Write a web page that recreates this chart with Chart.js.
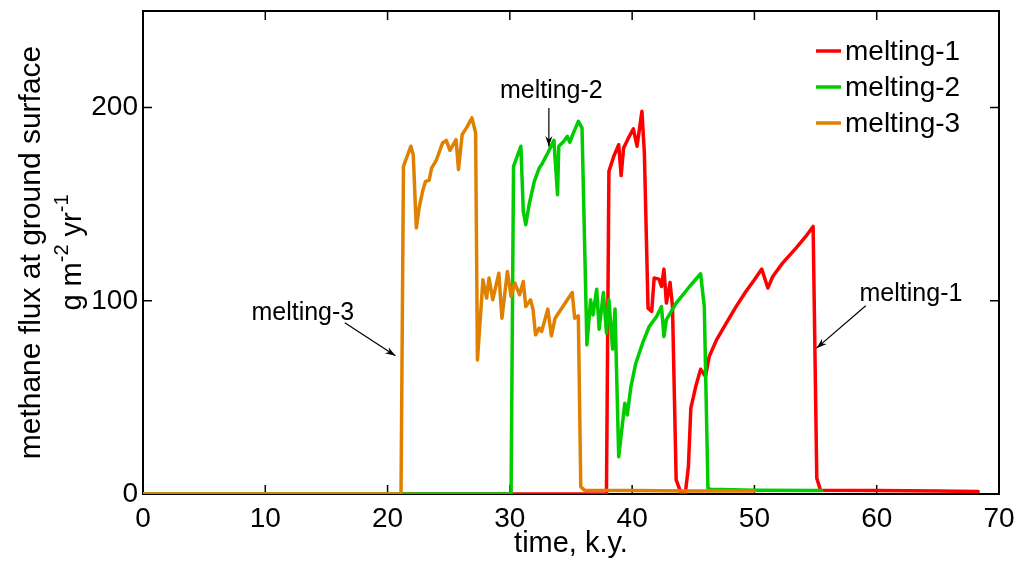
<!DOCTYPE html>
<html>
<head>
<meta charset="utf-8">
<script src="https://cdn.jsdelivr.net/npm/chart.js@4.4.1/dist/chart.umd.min.js"></script>
<style>
  html, body { margin: 0; padding: 0; background: #fff; }
  #wrap { width: 1018px; height: 561px; }
</style>
</head>
<body>
<div id="wrap"><canvas id="fluxChart" width="1018" height="561"></canvas></div>
<script>
// tick values
const xTicks = [0, 10, 20, 30, 40, 50, 60, 70];
const yTicks = [0, 100, 200];

// melting-1 (red)
const m1Time = [0, 37.9, 38.1, 38.5, 38.9, 39.1, 39.3, 39.7, 40.1, 40.4, 40.8, 41.0, 41.3, 41.6, 41.8, 42.2, 42.4, 42.6, 42.8, 43.1, 43.3, 43.6, 44.0, 44.35, 44.6, 44.8, 45.2, 45.6, 46.0, 46.3, 46.9, 47.7, 48.5, 49.3, 50.0, 50.6, 51.1, 51.5, 52.3, 53.4, 54.2, 54.8, 55.1, 55.4, 60, 65, 68.3];
const m1Flux = [0, 0, 167, 174.8, 180.8, 164.8, 179.1, 184.3, 189, 180, 198.1, 176.5, 96.2, 94.5, 111.8, 111.2, 107.4, 116.4, 98.8, 109.5, 97, 7.3, 0.4, 0.4, 14.1, 44.4, 55.6, 64.6, 60.8, 71.1, 79.8, 88.4, 97, 104.8, 110.9, 116.4, 106.6, 112.6, 119.5, 127.3, 133.3, 138.5, 8.1, 2, 1.8, 1.5, 1.3];

// melting-2 (green)
const m2Time = [0, 30.1, 30.3, 30.9, 31.1, 31.3, 31.6, 32.0, 32.4, 32.6, 33.1, 33.6, 33.9, 34.0, 34.4, 34.7, 34.9, 35.2, 35.6, 35.9, 36.3, 36.6, 36.8, 37.1, 37.3, 37.65, 37.9, 38.1, 38.4, 38.6, 38.9, 39.4, 39.6, 39.9, 40.3, 40.9, 41.4, 42.0, 42.4, 42.6, 42.8, 43.6, 44.7, 45.6, 45.9, 46.2, 46.4, 50, 55.5];
const m2Flux = [0, 0, 169.6, 180, 146.3, 139.4, 150.6, 161.8, 168.7, 170.5, 176.5, 183, 154.9, 180, 182.5, 185.1, 182, 186.9, 192.9, 189.5, 77.2, 100.5, 92.7, 106, 85.3, 104.3, 83.3, 100.5, 75, 95.7, 19.3, 47, 40.9, 55.6, 67.7, 78.9, 86.7, 91.9, 97, 81.5, 90.2, 98.8, 107.4, 114, 97, 3, 2.4, 2, 1.8];

// melting-3 (orange)
const m3Time = [0, 21.1, 21.3, 21.9, 22.1, 22.35, 22.6, 22.9, 23.1, 23.4, 23.6, 24.0, 24.5, 24.8, 25.1, 25.6, 25.8, 26.1, 26.5, 26.9, 27.2, 27.35, 27.8, 28.1, 28.3, 28.6, 29.1, 29.35, 29.8, 30.1, 30.4, 30.8, 31.1, 31.3, 31.7, 31.9, 32.1, 32.4, 32.6, 33.1, 33.4, 33.7, 35.1, 35.3, 35.6, 35.8, 36.1, 40, 45, 50];
const m3Flux = [0, 0, 169.6, 180, 175.6, 137.7, 148.9, 157.5, 161.8, 162.4, 168.7, 173, 181.7, 183, 177.9, 183.4, 167.9, 186, 190, 194.7, 186.9, 69.4, 110.9, 101.4, 111.8, 100.5, 114.3, 91, 115.2, 102.2, 109.2, 103.1, 110, 97, 100.5, 95.3, 82.4, 85.9, 84.1, 95.7, 81.9, 91, 104.3, 91, 92.2, 3.8, 2, 1.8, 1.6, 1.5];

// text labels with arrows, in data units: [text, textX, textY, fromX, fromY, toX, toY]
const notes = [
  ['melting-3', 13.07, 93.8, 16.5, 88.6, 20.64, 71.5],
  ['melting-2', 33.39, 208.4, 33.19, 199.8, 33.19, 179.9],
  ['melting-1', 62.8, 103.6, 59.1, 97.4, 55.08, 75.5]
];

const FONT = "'Liberation Sans', Arial, sans-serif";

function pts(xs, ys) {
  return xs.map((t, i) => ({ x: t, y: ys[i] }));
}

const boxPlugin = {
  id: 'box',
  beforeDatasetsDraw(chart) {
    const { ctx, chartArea: a, scales: { x, y } } = chart;
    ctx.save();
    ctx.strokeStyle = '#000';
    ctx.lineWidth = 2;
    ctx.strokeRect(a.left, a.top, a.right - a.left, a.bottom - a.top);
    ctx.lineWidth = 1.5;
    ctx.beginPath();
    xTicks.forEach(v => {
      const px = x.getPixelForValue(v);
      ctx.moveTo(px, a.bottom); ctx.lineTo(px, a.bottom - 9);
      ctx.moveTo(px, a.top); ctx.lineTo(px, a.top + 9);
    });
    yTicks.forEach(v => {
      const py = y.getPixelForValue(v);
      ctx.moveTo(a.left, py); ctx.lineTo(a.left + 9, py);
      ctx.moveTo(a.right, py); ctx.lineTo(a.right - 9, py);
    });
    ctx.stroke();

    // y axis title (two lines, second with superscripts)
    const cy = (a.top + a.bottom) / 2;
    ctx.fillStyle = '#000';
    ctx.translate(0, cy);
    ctx.rotate(-Math.PI / 2);
    ctx.textBaseline = 'alphabetic';
    ctx.textAlign = 'center';
    ctx.font = '30px ' + FONT;
    ctx.fillText('methane flux at ground surface', 0, 40);
    const parts = [['g m', false], ['-2', true], [' yr', false], ['-1', true]];
    const big = '29px ' + FONT, small = '20px ' + FONT;
    let total = 0;
    parts.forEach(([s, sup]) => { ctx.font = sup ? small : big; total += ctx.measureText(s).width; });
    let px = -total / 2;
    ctx.textAlign = 'left';
    parts.forEach(([s, sup]) => {
      ctx.font = sup ? small : big;
      ctx.fillText(s, px, sup ? 68 : 81);
      px += ctx.measureText(s).width;
    });
    ctx.restore();
  },
  afterDatasetsDraw(chart) {
    const { ctx, scales: { x, y } } = chart;
    ctx.save();
    // annotations
    ctx.fillStyle = '#000';
    ctx.strokeStyle = '#000';
    ctx.lineWidth = 1.2;
    ctx.font = '25px ' + FONT;
    ctx.textAlign = 'center';
    ctx.textBaseline = 'middle';
    notes.forEach(([txt, tx, ty, fx, fy, ex, ey]) => {
      ctx.fillText(txt, x.getPixelForValue(tx), y.getPixelForValue(ty));
      const x1 = x.getPixelForValue(fx), y1 = y.getPixelForValue(fy);
      const x2 = x.getPixelForValue(ex), y2 = y.getPixelForValue(ey);
      const ang = Math.atan2(y2 - y1, x2 - x1);
      ctx.beginPath();
      ctx.moveTo(x1, y1); ctx.lineTo(x2, y2);
      ctx.stroke();
      ctx.beginPath();
      ctx.moveTo(x2, y2);
      ctx.lineTo(x2 - 11 * Math.cos(ang - 0.33), y2 - 11 * Math.sin(ang - 0.33));
      ctx.lineTo(x2 - 7 * Math.cos(ang), y2 - 7 * Math.sin(ang));
      ctx.lineTo(x2 - 11 * Math.cos(ang + 0.33), y2 - 11 * Math.sin(ang + 0.33));
      ctx.closePath();
      ctx.fill();
    });

    // legend, top right
    const a = chart.chartArea;
    ctx.font = '28px ' + FONT;
    ctx.textAlign = 'left';
    ctx.textBaseline = 'middle';
    chart.data.datasets.forEach((ds, i) => {
      const ly = a.top + 40 + i * 36;
      ctx.strokeStyle = ds.borderColor;
      ctx.lineWidth = 3.5;
      ctx.beginPath();
      ctx.moveTo(816, ly); ctx.lineTo(841, ly);
      ctx.stroke();
      ctx.fillStyle = '#000';
      ctx.fillText(ds.label, 845, ly + 1);
    });
    ctx.restore();
  }
};

new Chart(document.getElementById('fluxChart').getContext('2d'), {
  type: 'line',
  data: {
    datasets: [
      { label: 'melting-1', data: pts(m1Time, m1Flux), borderColor: '#ff0000', order: 2 },
      { label: 'melting-2', data: pts(m2Time, m2Flux), borderColor: '#00cc00', order: 1 },
      { label: 'melting-3', data: pts(m3Time, m3Flux), borderColor: '#e08000', order: 0 }
    ]
  },
  options: {
    responsive: false,
    animation: false,
    devicePixelRatio: 1,
    parsing: false,
    elements: {
      point: { radius: 0 },
      line: { borderWidth: 3.5, tension: 0, borderJoinStyle: 'round', borderCapStyle: 'round' }
    },
    layout: { padding: { top: 11, right: 19, left: 0, bottom: 0 } },
    plugins: { legend: { display: false }, tooltip: { enabled: false } },
    scales: {
      x: {
        type: 'linear', min: 0, max: 70,
        grid: { display: false },
        border: { display: false },
        afterBuildTicks: s => { s.ticks = xTicks.map(v => ({ value: v })); },
        afterFit: s => { s.height = 67; s.paddingLeft = 0; s.paddingRight = 0; },
        ticks: { color: '#000', font: { family: FONT, size: 28 }, padding: 0, maxRotation: 0 },
        title: { display: true, text: 'time, k.y.', color: '#000', font: { family: FONT, size: 29 }, padding: { top: 0, bottom: 0 } }
      },
      y: {
        type: 'linear', min: 0, max: 250,
        grid: { display: false, drawTicks: false },
        border: { display: false },
        afterBuildTicks: s => { s.ticks = yTicks.map(v => ({ value: v })); },
        afterFit: s => { s.width = 143; s.paddingTop = 0; s.paddingBottom = 0; },
        ticks: { color: '#000', font: { family: FONT, size: 28 }, padding: 5 }
      }
    }
  },
  plugins: [boxPlugin]
});
</script>
</body>
</html>
